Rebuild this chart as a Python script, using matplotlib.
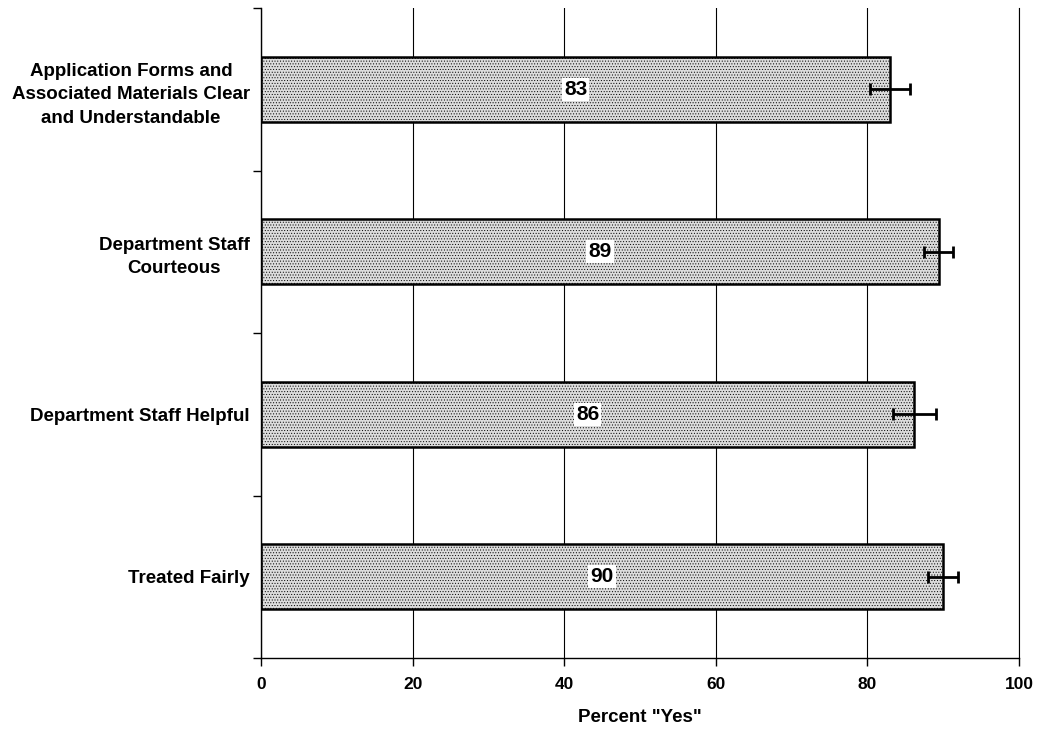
import numpy as np
import matplotlib.pyplot as plt

# ----------------- data -----------------
categories = ['Application Forms and\nAssociated Materials Clear\nand Understandable',
              'Department Staff\nCourteous',
              'Department Staff Helpful',
              'Treated Fairly']
values = [83.0, 89.4, 86.2, 90.0]
errors = [2.6, 1.9, 2.8, 2.0]
value_labels = ['83', '89', '86', '90']
xticks = [0, 20, 40, 60, 80, 100]

plt.rcParams['font.family'] = ['Liberation Sans', 'DejaVu Sans']
plt.rcParams['hatch.color'] = '#c4c4c4'
plt.rcParams['hatch.linewidth'] = 0.4

fig = plt.figure(figsize=(10.37, 7.3), dpi=100)
ax = fig.add_axes([0.2517, 0.0986, 0.7309, 0.8904])

y = np.arange(len(categories))
ax.barh(y, values, height=0.4, color='#dcdcdc', edgecolor='black', linewidth=1.8,
        hatch='......', zorder=2)
ax.errorbar(values, y, xerr=errors, fmt='none', ecolor='black', elinewidth=2,
            capsize=4, capthick=2, zorder=3)

# value labels in the middle of each bar
for yi, v, lab in zip(y, values, value_labels):
    ax.text(v / 2, yi, lab, ha='center', va='center', fontsize=15, fontweight='bold',
            bbox=dict(facecolor='white', edgecolor='none', pad=1.5), zorder=4)

ax.set_xlim(0, 100)
ax.set_ylim(len(categories) - 0.5, -0.5)
ax.set_xticks(xticks)
ax.set_xticklabels([str(t) for t in xticks], fontsize=12.5, fontweight='bold')
ax.set_yticks(y)
ax.set_yticklabels(categories, fontsize=13.5, fontweight='bold', linespacing=1.5,
                   multialignment='center')
ax.tick_params(axis='y', length=0, pad=8)
ax.set_yticks(np.arange(-0.5, len(categories)), minor=True)
ax.tick_params(axis='y', which='minor', length=6, width=1, direction='out')
ax.tick_params(axis='x', length=6, width=1, direction='out', pad=8)

ax.grid(axis='x', color='black', linewidth=0.8, zorder=0)
ax.axvline(100, color='black', linewidth=0.8, clip_on=False, zorder=0)
ax.set_axisbelow(True)
for s in ['top', 'right']:
    ax.spines[s].set_visible(False)
ax.spines['left'].set_linewidth(1)
ax.spines['bottom'].set_linewidth(1)

ax.set_xlabel('Percent "Yes"', fontsize=13.5, fontweight='bold', labelpad=12)

fig.savefig('out.png', dpi=100)
